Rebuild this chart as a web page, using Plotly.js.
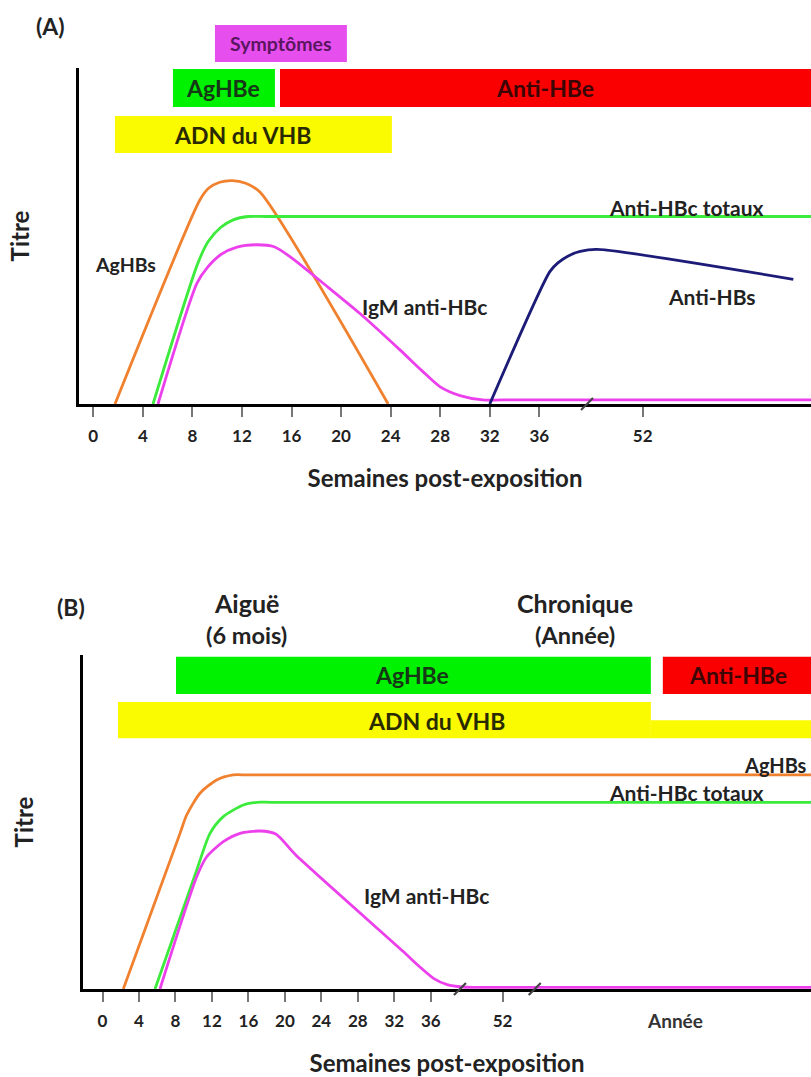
<!DOCTYPE html>
<html><head><meta charset="utf-8">
<script src="https://cdn.plot.ly/plotly-3.0.1.min.js"></script>
<style>html,body{margin:0;padding:0;background:#fff}#chart{width:811px;height:1077px}</style>
</head><body><div id="chart"></div>
<script>
// ================= DATA =================
// Panel A : infection aiguë (x = semaines post-exposition, axe coupé après 36 -> 52)
const tickLabelsA = ['0','4','8','12','16','20','24','28','32','36','52'];
const tickPosA    = [0, 4, 8, 12, 16, 20, 24, 28, 32, 36, 44.34];

const barNamesA = ['Symptômes', 'AgHBe', 'Anti-HBe', 'ADN du VHB'];
const barStartA = [9.82, 6.43, 15.07, 1.75];
const barEndA   = [20.47, 14.66, 60, 24.1];

const agHBsA_x    = [1.75, 8.6, 9.3, 10.2, 11.2, 12.3, 13.45, 23.8];
const agHBsA_y    = [0, 60.7, 64.2, 66.0, 66.5, 65.7, 63.1, 0];
const antiHBcA_x  = [4.82, 8.45, 9.3, 10.3, 11.3, 12.5, 14, 57.93];
const antiHBcA_y  = [0, 42, 48.5, 52.6, 54.8, 55.8, 55.8, 55.8];
const igmA_x      = [5.22, 8.37, 9.2, 10.3, 11.6, 13.2, 14.6, 15.9, 18.9, 21.5, 24.75, 26.5, 28, 29.6, 31.45, 33, 57.93];
const igmA_y      = [0, 36, 40.6, 44.5, 46.7, 47.4, 46.8, 43.8, 34.9, 27, 16.1, 10, 5.1, 2.5, 1.2, 1.2, 1.2];
const antiHBsA_x  = [32, 36.85, 37.5, 38.3, 39.3, 40.65, 56.5];
const antiHBsA_y  = [0, 39.4, 42, 44, 45.4, 46, 37.1];
const breakA_x    = [39.85];

// Panel B : infection chronique
const tickLabelsB = ['0','4','8','12','16','20','24','28','32','36','52'];
const tickPosB    = [0, 4, 8, 12, 16, 20, 24, 28, 32, 36, 43.88];
const yearLabelB  = 'Année';
const yearPosB    = 62.77;

const barNamesB = ['AgHBe', 'Anti-HBe', 'ADN du VHB', 'ADN du VHB (bas)'];
const barStartB = [8.06, 61.45, 1.70, 60.14];
const barEndB   = [60.14, 80, 60.14, 80];

const agHBsB_x   = [2.28, 8.5, 9.23, 10.69, 12.52, 14.34, 16, 77.7];
const agHBsB_y   = [0, 46.6, 52.1, 58.6, 62.6, 64.1, 64.1, 64.1];
const antiHBcB_x = [5.76, 10.33, 11.79, 13.25, 15.44, 16.91, 18.5, 77.7];
const antiHBcB_y = [0, 35.6, 46.6, 51.6, 55.1, 55.9, 55.9, 55.9];
const igmB_x     = [6.3, 10.33, 11.43, 13.25, 15.08, 17.27, 19.0, 21.2, 32.98, 34.8, 36.3, 37.8, 39.5, 41, 77.7];
const igmB_y     = [0, 33.6, 39.6, 44.1, 46.6, 47.3, 46.4, 40.1, 11.2, 6.6, 3.2, 1.3, 0.6, 0.5, 0.5];
const breakB_x   = [39.2, 47.4];

// ================= STYLE / LAYOUT =================
const FONT = 'Lato, "Open Sans", sans-serif';
const TXT = '#222';
const C = {orange:'#F0812F', green:'#3CEB3C', magenta:'#EC40EC', navy:'#1C1C78'};

const W = 811, H = 1077;
const domXA = [79 / W, 1], domYA = [(H - 404) / H, (H - 68) / H];
const domYA3 = [(H - 404) / H, (H - 20) / H];           // invisible axis for the status bars
const domXB = [83 / W, 1], domYB = [(H - 989) / H, (H - 655) / H];
const rangeXA = [-1.154, 57.93], rangeXB = [-2.14, 77.7];
const rangeYA3 = [0, 100 * (404 - 20) / (404 - 68)];
const ypB = v => domYB[0] + v / 100 * (domYB[1] - domYB[0]);

// bar rows (centre, thickness) in titre units
const rowsA = [107.3, 94.05, 94.05, 80.2], thickA = [11.0, 11.3, 11.3, 11.0];
const colorsA = ['#E64EEE', '#00F200', '#FA0000', '#FAFA00'];
const rowsB = [93.9, 93.9, 80.5, 77.8], thickB = [11.1, 11.1, 10.8, 5.4];
const colorsB = ['#00F200', '#FA0000', '#FAFA00', '#FAFA00'];

function curve(x, y, color, xa, ya, name) {
  return {type:'scatter', mode:'lines', x, y, xaxis:xa, yaxis:ya, name,
    line:{color, width:2.8, shape:'spline', smoothing:0.7},
    hoverinfo:'skip', showlegend:false, cliponaxis:false};
}
function bars(names, start, end, rows, thick, colors, xa, ya) {
  return {type:'bar', orientation:'h', base:start, x:end.map((e, i) => e - start[i]),
    y:rows, width:thick, marker:{color:colors, line:{width:0}}, customdata:names,
    xaxis:xa, yaxis:ya, cliponaxis:false, hoverinfo:'skip', showlegend:false};
}
function breaks(x, xa, ya) {
  return {type:'scatter', mode:'markers', x, y:x.map(() => 0), xaxis:xa, yaxis:ya,
    marker:{symbol:'line-ne', size:12, line:{color:'#444', width:2.2}},
    hoverinfo:'skip', showlegend:false, cliponaxis:false};
}

const traces = [
  bars(barNamesA, barStartA, barEndA, rowsA, thickA, colorsA, 'x', 'y3'),
  curve(agHBsA_x, agHBsA_y, C.orange, 'x', 'y', 'AgHBs'),
  curve(antiHBcA_x, antiHBcA_y, C.green, 'x', 'y', 'Anti-HBc totaux'),
  curve(igmA_x, igmA_y, C.magenta, 'x', 'y', 'IgM anti-HBc'),
  curve(antiHBsA_x, antiHBsA_y, C.navy, 'x', 'y', 'Anti-HBs'),
  breaks(breakA_x, 'x', 'y'),
  bars(barNamesB, barStartB, barEndB, rowsB, thickB, colorsB, 'x2', 'y2'),
  curve(agHBsB_x, agHBsB_y, C.orange, 'x2', 'y2', 'AgHBs'),
  curve(antiHBcB_x, antiHBcB_y, C.green, 'x2', 'y2', 'Anti-HBc totaux'),
  curve(igmB_x, igmB_y, C.magenta, 'x2', 'y2', 'IgM anti-HBc'),
  breaks(breakB_x, 'x2', 'y2')
];

function xAxis(dom, range, tv, tt, anchor) {
  return {domain:dom, range, anchor, tickvals:tv, ticktext:tt, ticks:'outside', ticklen:10, tickwidth:2,
    tickcolor:'#777', showline:true, linecolor:'#000', linewidth:3, showgrid:false, zeroline:false,
    tickfont:{family:FONT, size:17, color:TXT, weight:'bold'}, ticklabelstandoff:5,
    title:{text:'Semaines post-exposition', font:{family:FONT, size:24, color:TXT, weight:'bold'}, standoff:25},
    layer:'below traces', fixedrange:true};
}
function yAxis(dom, anchor) {
  return {domain:dom, range:[0, 100], anchor, showline:true, linecolor:'#000', linewidth:3,
    showticklabels:false, ticks:'', showgrid:false, zeroline:false,
    title:{text:'Titre', font:{family:FONT, size:24, color:TXT, weight:'bold'}, standoff:40},
    layer:'below traces', fixedrange:true};
}

function ann(text, x, y, xref, yref, size, color) {
  return {text, x, y, xref, yref, showarrow:false, xanchor:'center', yanchor:'middle',
    font:{family:FONT, size, color: color || TXT, weight:'bold'}};
}

const annotations = [
  ann('(A)', 50 / W, (H - 26) / H, 'paper', 'paper', 23),
  ann(barNamesA[0], 15.15, 107.3, 'x', 'y3', 19.5, '#5A165F'),
  ann(barNamesA[1], 10.47, 94.05, 'x', 'y3', 23, '#163816'),
  ann(barNamesA[2], 36.47, 94.0, 'x', 'y3', 23, '#3C0606'),
  ann(barNamesA[3], 12.04, 80.2, 'x', 'y3', 23, '#2A2A00'),
  ann('AgHBs', 2.56, 41.4, 'x', 'y', 19.5),
  ann('Anti-HBc totaux', 47.9, 58.6, 'x', 'y', 21),
  ann('IgM anti-HBc', 26.7, 28.9, 'x', 'y', 21),
  ann('Anti-HBs', 49.9, 32.1, 'x', 'y', 21),

  ann('(B)', 71 / W, (H - 607) / H, 'paper', 'paper', 23),
  ann('Aiguë', 15.8, ypB(115.6), 'x2', 'paper', 25),
  ann('(6 mois)', 15.8, ypB(106.0), 'x2', 'paper', 23.5),
  ann('Chronique', 51.8, ypB(115.6), 'x2', 'paper', 25),
  ann('(Année)', 51.8, ypB(106.0), 'x2', 'paper', 23.5),
  ann(barNamesB[0], 33.94, 93.9, 'x2', 'y2', 23, '#163816'),
  ann(barNamesB[1], 69.68, 93.9, 'x2', 'y2', 23, '#3C0606'),
  ann(barNamesB[2], 36.68, 80.2, 'x2', 'y2', 23, '#2A2A00'),
  ann('AgHBs', 73.7, 67.1, 'x2', 'y2', 20),
  ann('Anti-HBc totaux', 64.1, 58.7, 'x2', 'y2', 21),
  ann('IgM anti-HBc', 35.5, 28.1, 'x2', 'y2', 21),
  ann(yearLabelB, yearPosB, ypB(-9.5), 'x2', 'paper', 19, '#333')
];

const layout = {
  width:W, height:H, margin:{l:0, r:0, t:0, b:0}, paper_bgcolor:'#fff', plot_bgcolor:'rgba(0,0,0,0)',
  barmode:'overlay', showlegend:false, font:{family:FONT, color:TXT},
  xaxis: xAxis(domXA, rangeXA, tickPosA, tickLabelsA, 'y'),
  yaxis: yAxis(domYA, 'x'),
  yaxis3: {domain:domYA3, range:rangeYA3, anchor:'x', visible:false, fixedrange:true},
  xaxis2: xAxis(domXB, rangeXB, tickPosB, tickLabelsB, 'y2'),
  yaxis2: yAxis(domYB, 'x2'),
  annotations
};

Plotly.newPlot('chart', traces, layout, {staticPlot:true, displayModeBar:false});
</script>
</body></html>
